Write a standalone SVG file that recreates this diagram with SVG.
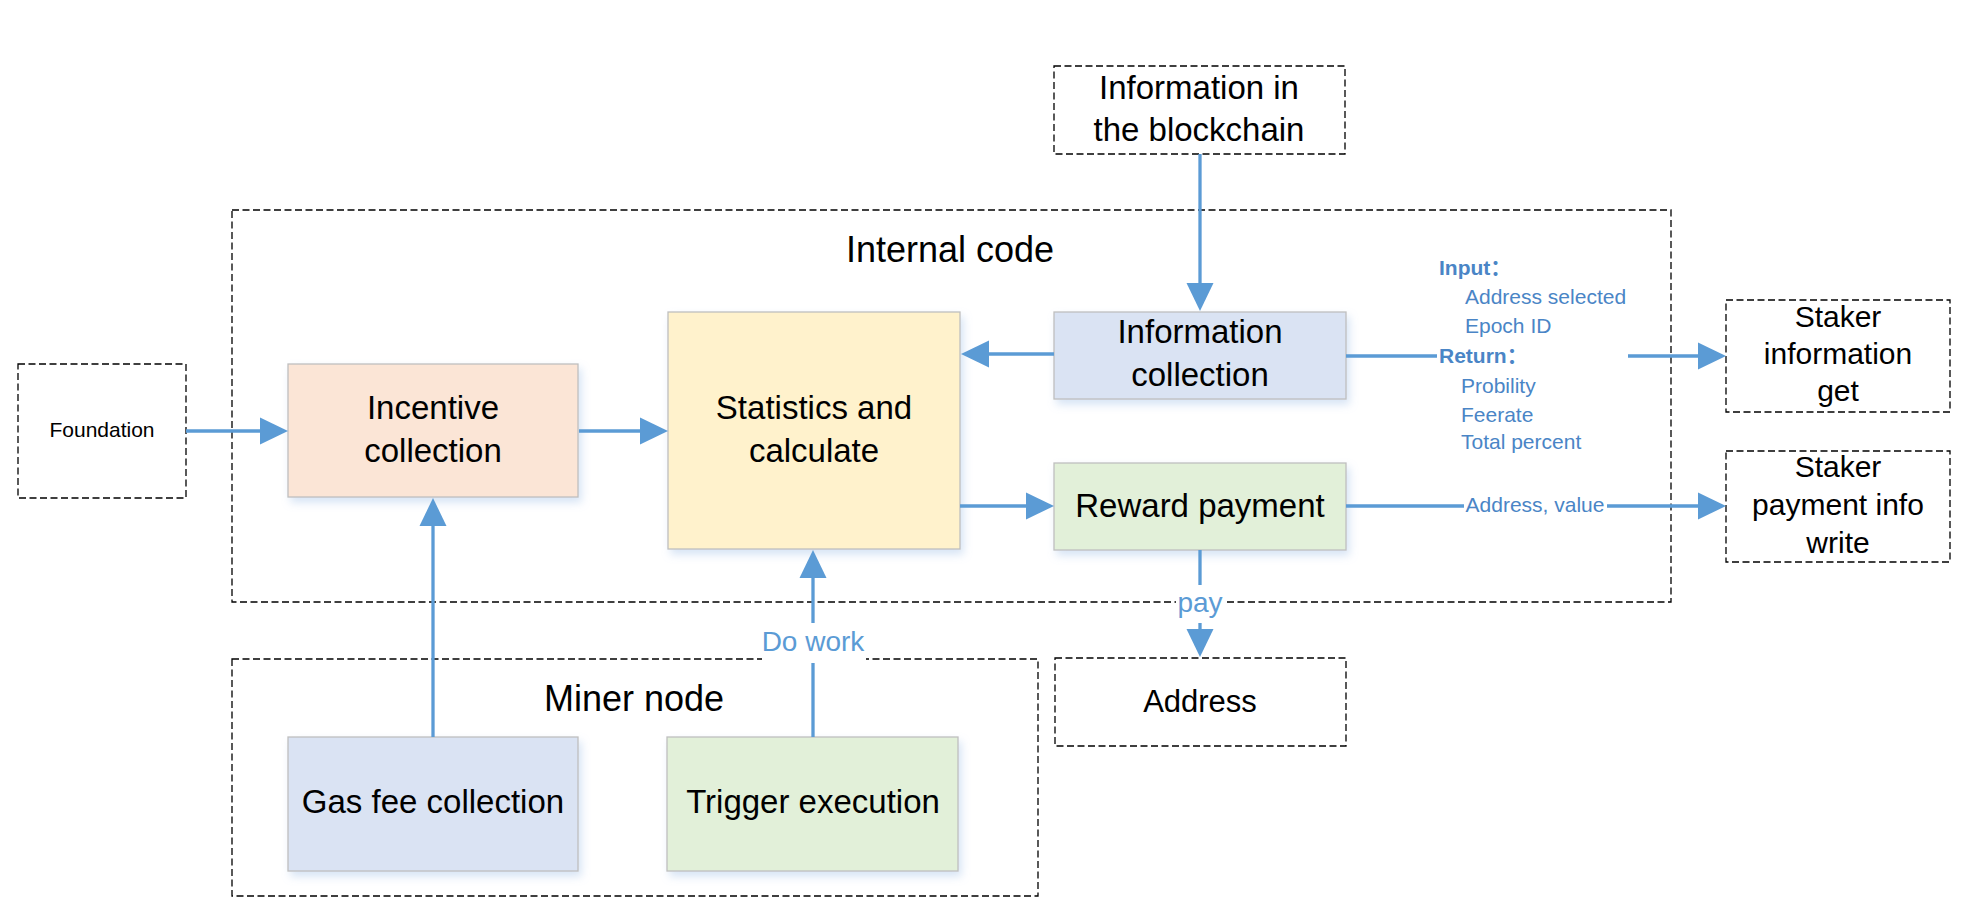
<svg xmlns="http://www.w3.org/2000/svg" width="1976" height="922" viewBox="0 0 1976 922">
<defs>
<style>
.dash{fill:none;stroke:#000;stroke-width:1.3;stroke-dasharray:7 3.5}
.box{stroke:#BFBFBF;stroke-width:1.3;filter:url(#sh)}
.t{font-family:"Liberation Sans",Arial,sans-serif;font-size:33px;fill:#000;text-anchor:middle}
.h{font-family:"Liberation Sans",Arial,sans-serif;font-size:36px;fill:#000;text-anchor:middle}
.s{font-family:"Liberation Sans",Arial,sans-serif;font-size:30px;fill:#000;text-anchor:middle}
.lb{font-family:"Liberation Sans",Arial,sans-serif;font-size:28px;fill:#5B9BD5;text-anchor:middle}
.sm{font-family:"Liberation Sans","Noto Sans CJK SC",Arial,sans-serif;font-size:21px;fill:#4A85C6}
.b{font-weight:bold}
.c{fill:none;stroke:#5B9BD5;stroke-width:3.3;marker-end:url(#ar)}
</style>
<filter id="sh" x="-10%" y="-10%" width="125%" height="130%">
<feDropShadow dx="3" dy="5" stdDeviation="4" flood-color="#8EB4E3" flood-opacity="0.35"/>
</filter>
<marker id="ar" markerUnits="userSpaceOnUse" markerWidth="28" markerHeight="27" refX="0" refY="13.5" orient="auto" overflow="visible">
<path d="M0,0 L28,13.5 L0,27 Z" fill="#5B9BD5"/>
</marker>
</defs>
<rect width="1976" height="922" fill="#fff"/>

<g id="internal-code">
<rect class="dash" x="232" y="210" width="1439" height="392"/>
<text class="h" x="950" y="262">Internal code</text>
</g>
<g id="miner-node">
<rect class="dash" x="232" y="659" width="806" height="237"/>
<text class="h" x="634" y="711">Miner node</text>
</g>
<g id="blockchain">
<rect class="dash" x="1054" y="66" width="291" height="88"/>
<text class="t" x="1199" y="99">Information in</text>
<text class="t" x="1199" y="141">the blockchain</text>
</g>
<g id="foundation">
<rect class="dash" x="18" y="364" width="168" height="134"/>
<text class="t" x="102" y="437" style="font-size:21px">Foundation</text>
</g>
<g id="incentive">
<rect class="box" x="288" y="364" width="290" height="133" fill="#FBE5D6"/>
<text class="t" x="433" y="419">Incentive</text>
<text class="t" x="433" y="462">collection</text>
</g>
<g id="statistics">
<rect class="box" x="668" y="312" width="292" height="237" fill="#FFF2CC"/>
<text class="t" x="814" y="419">Statistics and</text>
<text class="t" x="814" y="462">calculate</text>
</g>
<g id="info-collection">
<rect class="box" x="1054" y="312" width="292" height="87" fill="#DAE3F3"/>
<text class="t" x="1200" y="343">Information</text>
<text class="t" x="1200" y="386">collection</text>
</g>
<g id="reward">
<rect class="box" x="1054" y="463" width="292" height="87" fill="#E2F0D9"/>
<text class="t" x="1200" y="517">Reward payment</text>
</g>
<g id="gas">
<rect class="box" x="288" y="737" width="290" height="134" fill="#DAE3F3"/>
<text class="t" x="433" y="813">Gas fee collection</text>
</g>
<g id="trigger">
<rect class="box" x="667" y="737" width="291" height="134" fill="#E2F0D9"/>
<text class="t" x="813" y="813">Trigger execution</text>
</g>
<g id="address">
<rect class="dash" x="1055" y="658" width="291" height="88"/>
<text class="t" x="1200" y="712" style="font-size:31px">Address</text>
</g>
<g id="staker-info">
<rect class="dash" x="1726" y="300" width="224" height="112"/>
<text class="s" x="1838" y="327">Staker</text>
<text class="s" x="1838" y="364">information</text>
<text class="s" x="1838" y="401">get</text>
</g>
<g id="staker-pay">
<rect class="dash" x="1726" y="451" width="224" height="111"/>
<text class="s" x="1838" y="477">Staker</text>
<text class="s" x="1838" y="515">payment info</text>
<text class="s" x="1838" y="553">write</text>
</g>

<g id="connectors">
<path class="c" d="M1200 154 V283"/>
<path class="c" d="M1054 354 H989"/>
<path class="c" d="M186 431 H260"/>
<path class="c" d="M579 431 H640"/>
<path class="c" d="M960 506 H1026"/>
<path class="c" d="M433 737 V526"/>
<path class="c" d="M813 737 V663 M813 623 V578"/>
<path class="c" d="M1200 550 V585 M1200 623 V629"/>
<path class="c" d="M1346 356 H1437 M1628 356 H1698"/>
<path class="c" d="M1346 506 H1464 M1607 506 H1698"/>
<rect x="762" y="628" width="104" height="34" fill="#fff"/>
<text class="lb" x="813" y="651">Do work</text>
<rect x="1176" y="590" width="48" height="30" fill="#fff"/>
<text class="lb" x="1200" y="612">pay</text>
<text class="sm" x="1535" y="512" text-anchor="middle">Address, value</text>
<text class="sm b" x="1439" y="275">Input：</text>
<text class="sm" x="1465" y="304">Address selected</text>
<text class="sm" x="1465" y="333">Epoch ID</text>
<text class="sm b" x="1439" y="363">Return：</text>
<text class="sm" x="1461" y="393">Probility</text>
<text class="sm" x="1461" y="422">Feerate</text>
<text class="sm" x="1461" y="449">Total percent</text>
</g>
</svg>
